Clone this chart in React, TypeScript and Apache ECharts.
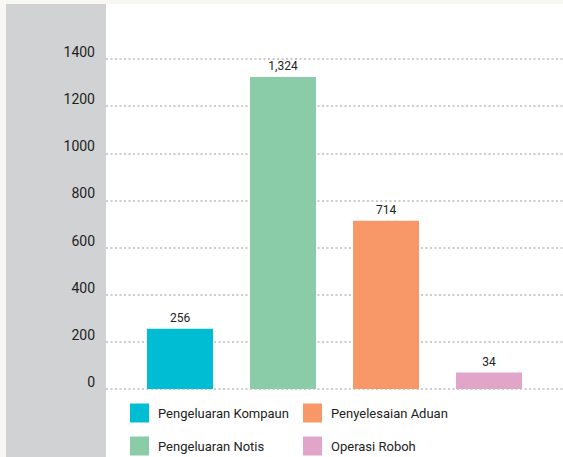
import React, { useEffect, useRef } from "react";
import * as echarts from "echarts";

const categories = ["Pengeluaran Kompaun", "Pengeluaran Notis", "Penyelesaian Aduan", "Operasi Roboh"];
const values = [256, 1324, 714, 34];
const colors = ["#00bdd3", "#8acca8", "#f89868", "#e1a5c9"];
const yTicks = { min: 0, max: 1400, interval: 200 };

const FONT = "Roboto, 'Liberation Sans', sans-serif";

export default function App() {
  const ref = useRef<HTMLDivElement>(null);
  useEffect(() => {
    if (!ref.current) return;
    const chart = echarts.init(ref.current, undefined, { renderer: "svg" });
    const series = categories.map((name, i) => ({
      name,
      type: "bar",
      xAxisIndex: 1,
      yAxisIndex: 1,
      stack: "all",
      barWidth: 66,
      barMinHeight: 16.5,
      itemStyle: { color: colors[i] },
      label: {
        show: true,
        position: "top",
        distance: 5,
        fontFamily: FONT,
        fontSize: 12,
        color: "#222",
        formatter: (p: any) => Number(p.value).toLocaleString("en-US"),
      },
      data: categories.map((_, j) => (j === i ? values[i] : "-")),
    }));
    const legendBase = {
      orient: "vertical",
      top: 403.5,
      icon: "rect",
      itemWidth: 19,
      itemHeight: 19,
      itemGap: 14,
      padding: 0,
      textStyle: { fontFamily: FONT, fontSize: 13, color: "#222", padding: [0, 0, 0, 4] },
    };
    chart.setOption({
      animation: false,
      backgroundColor: "#f8f7f4",
      graphic: [
        { type: "rect", z: -10, shape: { x: 106, y: 4, width: 457, height: 453 }, style: { fill: "#ffffff" } },
        { type: "rect", z: -10, shape: { x: 6, y: 4, width: 100, height: 453 }, style: { fill: "#d1d2d4" } },
      ],
      grid: [
        { left: 106, right: 0, top: 59, bottom: 68 },
        { left: 128.5, right: 22.5, top: 59, bottom: 68 },
      ],
      xAxis: [
        { type: "category", gridIndex: 0, data: categories, show: false },
        { type: "category", gridIndex: 1, data: categories, show: false },
      ],
      yAxis: [
        {
          type: "value",
          gridIndex: 0,
          ...yTicks,
          axisLine: { show: false },
          axisTick: { show: false },
          axisLabel: {
            margin: 11,
            fontFamily: FONT,
            fontSize: 14,
            color: "#222",
            verticalAlign: "bottom",
            lineHeight: 14,
            formatter: (v: number) => String(v),
          },
          splitLine: { lineStyle: { color: "#cccccc", width: 2, type: [2, 2.5] } },
        },
        { type: "value", gridIndex: 1, ...yTicks, show: false, splitLine: { show: false } },
      ],
      legend: [
        { ...legendBase, data: [categories[0], categories[1]], left: 130 },
        { ...legendBase, data: [categories[2], categories[3]], left: 303 },
      ],
      series,
    });
    return () => chart.dispose();
  }, []);
  return <div ref={ref} style={{ position: "fixed", left: 0, top: 0, width: 563, height: 457 }} />;
}
